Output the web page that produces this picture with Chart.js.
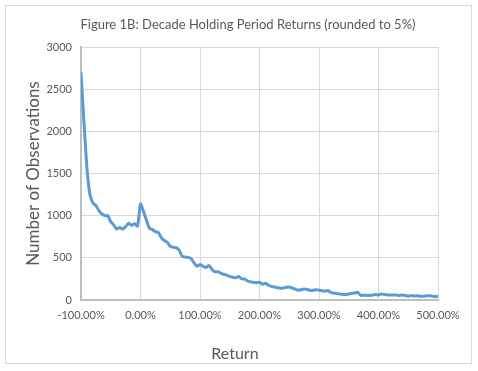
<!DOCTYPE html>
<html>
<head>
<meta charset="utf-8">
<script src="https://cdn.jsdelivr.net/npm/chart.js@4/dist/chart.umd.min.js"></script>
<style>
html,body{margin:0;padding:0;background:#fff;}
#wrap{position:relative;width:478px;height:371px;}
</style>
</head>
<body>
<div id="wrap"><canvas id="c" width="478" height="371"></canvas></div>
<script>
const chartTitle = "Figure 1B: Decade Holding Period Returns (rounded to 5%)";
const xTitle = "Return";
const yTitle = "Number of Observations";

const returns = [
  -100,-95,-90,-85,-80,-75,-70,-65,-60,-55,-50,-45,-40,-35,-30,-25,-20,-15,-10,-5,
  0,5,10,15,20,25,30,35,40,45,50,55,60,65,70,75,80,85,90,95,
  100,105,110,115,120,125,130,135,140,145,150,155,160,165,170,175,180,185,190,195,
  200,205,210,215,220,225,230,235,240,245,250,255,260,265,270,275,280,285,290,295,
  300,305,310,315,320,325,330,335,340,345,350,355,360,365,370,375,380,385,390,395,
  400,405,410,415,420,425,430,435,440,445,450,455,460,465,470,475,480,485,490,495,
  500
];

const observations = [
  2700,2100,1560,1250,1150,1120,1060,1020,1000,1000,930,890,840,860,840,870,910,885,905,875,
  1140,1050,945,850,835,810,800,740,705,685,635,625,620,590,520,510,505,490,440,400,
  420,400,385,410,365,335,335,320,305,295,280,270,265,280,250,250,225,215,210,204,
  212,185,200,175,162,155,145,140,142,150,155,142,128,115,122,130,125,115,115,122,
  117,110,105,112,90,80,78,72,65,65,72,80,82,92,55,57,55,55,57,65,
  60,72,65,60,60,60,58,53,58,53,45,52,47,50,45,45,47,52,45,38,
  45
];

const xTicks = [-100, 0, 100, 200, 300, 400, 500];
const yTicks = [0, 500, 1000, 1500, 2000, 2500, 3000];

const textColor = '#595959';
const fontFam = 'Lato, "Open Sans", sans-serif';

const frame = {
  id: 'frame',
  beforeDraw(chart) {
    const ctx = chart.ctx;
    ctx.save();
    ctx.fillStyle = '#ffffff';
    ctx.fillRect(0, 0, chart.width, chart.height);
    ctx.strokeStyle = '#d9d9d9';
    ctx.lineWidth = 1;
    ctx.strokeRect(5.5, 5.5, 466, 358);
    ctx.restore();
  }
};

// x-axis title sits left of the plot centre in the original; pad with trailing spaces
const xTitleShifted = xTitle + '\u00a0'.repeat(12);

new Chart(document.getElementById('c'), {
  type: 'line',
  data: {
    datasets: [{
      data: returns.map((r, i) => ({x: r, y: observations[i]})),
      borderColor: '#5B9BD5',
      borderWidth: 3,
      pointRadius: 0,
      tension: 0.15,
      fill: false
    }]
  },
  options: {
    responsive: false,
    animation: false,
    devicePixelRatio: 1,
    layout: {padding: {left: 18, right: 0, top: 0, bottom: 0}},
    plugins: {
      legend: {display: false},
      tooltip: {enabled: false},
      title: {
        display: true,
        text: chartTitle,
        color: textColor,
        font: {family: fontFam, size: 13, weight: 'normal', lineHeight: 1.2},
        padding: {top: 17, bottom: 14.4}
      }
    },
    scales: {
      x: {
        type: 'linear',
        min: xTicks[0],
        max: xTicks[xTicks.length - 1],
        afterBuildTicks(s) { s.ticks = xTicks.map(v => ({value: v})); },
        afterFit(s) { s.height = 71; },
        ticks: {
          color: textColor,
          font: {family: fontFam, size: 11},
          padding: 9,
          maxRotation: 0,
          autoSkip: false,
          callback: v => v.toFixed(2) + '%'
        },
        grid: {color: '#d9d9d9', lineWidth: 1, drawTicks: false},
        border: {color: '#bfbfbf', width: 2},
        title: {
          display: true,
          text: xTitleShifted,
          color: textColor,
          font: {family: fontFam, size: 16},
          padding: {top: 0, bottom: 8}
        }
      },
      y: {
        min: yTicks[0],
        max: yTicks[yTicks.length - 1],
        afterBuildTicks(s) { s.ticks = yTicks.map(v => ({value: v})); },
        afterFit(s) { s.width = 63; },
        ticks: {
          color: textColor,
          font: {family: fontFam, size: 11},
          padding: 9,
          callback: v => String(v)
        },
        grid: {color: '#d9d9d9', lineWidth: 1, drawTicks: false},
        border: {color: '#bfbfbf', width: 2},
        title: {
          display: true,
          text: yTitle,
          color: textColor,
          font: {family: fontFam, size: 17},
          padding: {top: 5, bottom: 0}
        }
      },
      yRightSpacer: {
        type: 'linear',
        position: 'right',
        display: true,
        min: 0,
        max: 1,
        afterFit(s) { s.width = 40; },
        ticks: {display: false},
        grid: {display: false, drawTicks: false},
        border: {display: false}
      }
    }
  },
  plugins: [frame]
});
</script>
</body>
</html>
